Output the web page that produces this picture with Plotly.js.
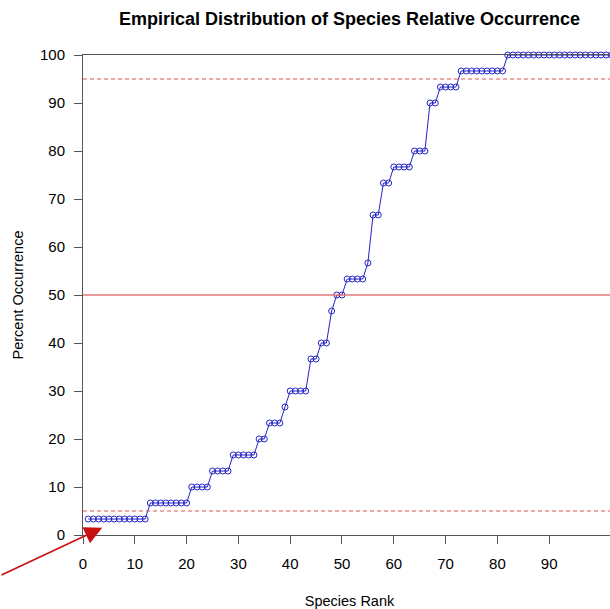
<!DOCTYPE html>
<html>
<head>
<meta charset="utf-8">
<script src="https://cdn.plot.ly/plotly-3.0.1.min.js"></script>
<style>
html,body{margin:0;padding:0;overflow:hidden;background:#fff;}
#chart{width:616px;height:609px;}
</style>
</head>
<body>
<div id="chart"></div>
<script>
// Percent occurrence of each species, sorted by rank (rank = position in list, starting at 1)
const occurrence = [
  3.33,3.33,3.33,3.33,3.33,3.33,3.33,3.33,3.33,3.33,3.33,3.33,
  6.67,6.67,6.67,6.67,6.67,6.67,6.67,6.67,
  10,10,10,10,
  13.33,13.33,13.33,13.33,
  16.67,16.67,16.67,16.67,16.67,
  20,20,
  23.33,23.33,23.33,
  26.67,
  30,30,30,30,
  36.67,36.67,
  40,40,
  46.67,
  50,50,
  53.33,53.33,53.33,53.33,
  56.67,
  66.67,66.67,
  73.33,73.33,
  76.67,76.67,76.67,76.67,
  80,80,80,
  90,90,
  93.33,93.33,93.33,93.33,
  96.67,96.67,96.67,96.67,96.67,96.67,96.67,96.67,96.67,
  100,100,100,100,100,100,100,100,100,100,100,100,100,100,100,100,100,100,100,100,100,100,100
];
const speciesRank = occurrence.map((v, i) => i + 1);
const referenceLevels = [5, 50, 95];
const referenceDash = ['4px,3px', 'solid', '4px,3px'];
const xTicks = [0,10,20,30,40,50,60,70,80,90];
const yTicks = [0,10,20,30,40,50,60,70,80,90,100];

const trace = {
  x: speciesRank,
  y: occurrence,
  type: 'scatter',
  mode: 'lines+markers',
  line: {color: '#2424c8', width: 1},
  marker: {symbol: 'circle-open', size: 6, color: '#2424c8', line: {width: 1, color: '#2424c8'}},
  cliponaxis: false,
  hoverinfo: 'skip'
};

const shapes = referenceLevels.map((lv, i) => ({
  type: 'line', xref: 'paper', x0: 0, x1: 1, yref: 'y', y0: lv, y1: lv,
  line: {color: i === 1 ? '#e07a7a' : '#e05555', width: i === 1 ? 1.3 : 1, dash: referenceDash[i]},
  layer: 'above'
}));

const fontFamily = 'Liberation Sans, Arial, sans-serif';
const tickFont = {family: fontFamily, size: 15, color: '#000'};
const axisTitleFont = {family: fontFamily, size: 14.5, color: '#000'};

const layout = {
  width: 616, height: 609,
  margin: {l: 83, r: 0, t: 55, b: 74},
  paper_bgcolor: '#fff', plot_bgcolor: '#fff',
  showlegend: false,
  title: {
    text: '<b>Empirical Distribution of Species Relative Occurrence</b>',
    font: {family: fontFamily, size: 18, color: '#000'},
    x: 0.5, xref: 'paper', xanchor: 'center', y: 0.97, yref: 'container', yanchor: 'middle'
  },
  xaxis: {
    range: [0, 102.9], tickvals: xTicks, ticktext: xTicks.map(String),
    showgrid: false, zeroline: false,
    showline: true, mirror: true, linecolor: '#555', linewidth: 1,
    ticks: 'outside', ticklen: 8, tickcolor: '#555',
    tickfont: tickFont, ticklabelstandoff: 7,
    title: {text: 'Species Rank', font: axisTitleFont, standoff: 24}
  },
  yaxis: {
    range: [0, 100], tickvals: yTicks, ticktext: yTicks.map(String),
    showgrid: false, zeroline: false,
    showline: true, mirror: true, linecolor: '#555', linewidth: 1,
    ticks: 'outside', ticklen: 8, tickcolor: '#555',
    tickfont: tickFont, ticklabelstandoff: 6,
    title: {text: 'Percent Occurrence', font: axisTitleFont, standoff: 12}
  },
  shapes: shapes,
  annotations: [{
    x: 3.7, y: 1.5, xref: 'x', yref: 'y',
    showarrow: true, arrowhead: 2, arrowsize: 2.2, arrowwidth: 1.6,
    arrowcolor: '#c81010', ax: -115, ay: 48, text: ''
  }]
};

Plotly.newPlot('chart', [trace], layout, {displayModeBar: false, staticPlot: true});
</script>
</body>
</html>
